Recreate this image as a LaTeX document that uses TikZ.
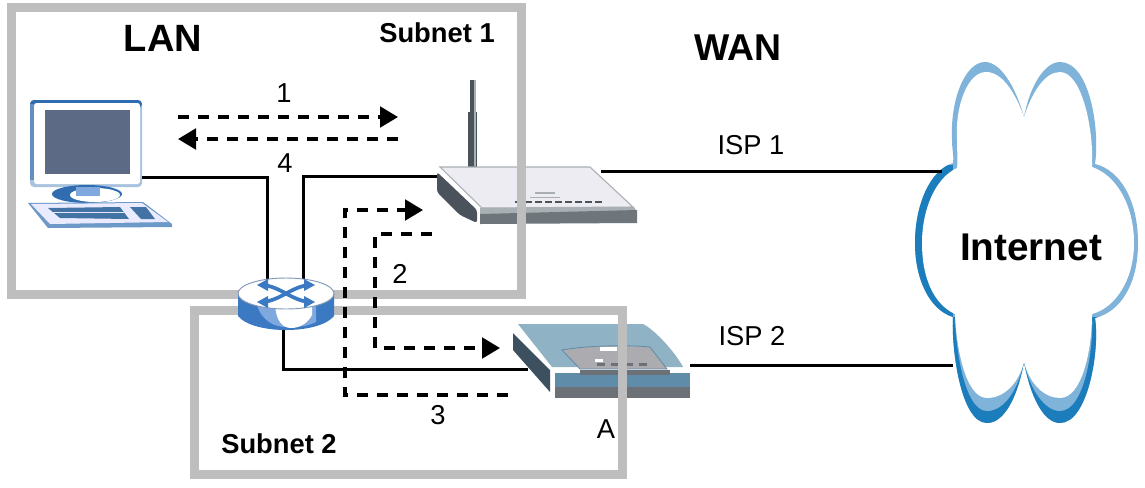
\documentclass[tikz,border=0pt]{standalone}
\usepackage{fontspec}
\setmainfont{Liberation Sans}
\usetikzlibrary{arrows.meta}
\definecolor{framegray}{HTML}{BEBEBE}
\definecolor{cloudlight}{HTML}{7FB3D9}
\definecolor{clouddark}{HTML}{1B7DBB}
\definecolor{pcblue}{HTML}{2F6DB0}
\definecolor{pcpale}{HTML}{A9C2DE}
\definecolor{pcscreen}{HTML}{5C6A86}
\definecolor{rtrdark}{HTML}{4A525C}
\definecolor{rtrmid}{HTML}{6E757B}
\definecolor{rtrlight}{HTML}{A9B0B3}
\definecolor{rtrtop}{HTML}{ECECF2}
\definecolor{gwtop}{HTML}{8FB2C4}
\definecolor{gwblue}{HTML}{5F8CA8}
\definecolor{gwgray}{HTML}{6C7177}
\definecolor{gwdark}{HTML}{3C5060}
\definecolor{gwpanel}{HTML}{ABABB0}
\definecolor{swblue}{HTML}{3B79C2}
\definecolor{swlight}{HTML}{7FA9DE}
\tikzset{
  x=0.75pt,y=-0.75pt,
  frame/.style={draw=framegray,line width=6.75pt,miter limit=10},
  wire/.style={draw=black,line width=2.25pt},
  flow/.style={draw=black,line width=2.4pt,dash pattern=on 8pt off 7pt,-{Triangle[length=13.5pt,width=15.5pt]}},
  big/.style={font=\bfseries\fontsize{28.5pt}{30pt}\selectfont,inner sep=0pt},
  wan/.style={font=\bfseries\fontsize{28pt}{30pt}\selectfont,inner sep=0pt},
  sub/.style={font=\bfseries\fontsize{20.5pt}{24pt}\selectfont,inner sep=0pt},
  lab/.style={font=\fontsize{20.5pt}{24pt}\selectfont,inner sep=0pt},
  net/.style={font=\bfseries\fontsize{29pt}{32pt}\selectfont,inner sep=0pt},
}
\def\cloudouter{(1024,117) .. controls (1015,85) and (1000,62) .. (985,62)
 .. controls (965,62) and (950,100) .. (952,140)
 .. controls (952,150) and (954,155) .. (953,163)
 .. controls (930,170) and (915,205) .. (915,243)
 .. controls (915,280) and (930,310) .. (953,317)
 .. controls (951,345) and (960,423) .. (987,423)
 .. controls (1005,423) and (1018,395) .. (1024,362)
 .. controls (1030,395) and (1043,423) .. (1060,423)
 .. controls (1088,423) and (1100,350) .. (1095,318)
 .. controls (1120,312) and (1138,285) .. (1138,243)
 .. controls (1138,200) and (1120,170) .. (1095,164)
 .. controls (1100,130) and (1090,62) .. (1060,62)
 .. controls (1045,62) and (1030,85) .. (1024,117) -- cycle}
\begin{document}
\begin{tikzpicture}
\useasboundingbox (0,0) rectangle (1145,487);
\fill[white] (0,0) rectangle (1145,487);

% ports
\coordinate (pcport) at (142,177);
\coordinate (rtrlan) at (437,176);
\coordinate (rtrwan) at (601,171);
\coordinate (swa) at (267,281);
\coordinate (swb) at (303,281);
\coordinate (swc) at (283,330);
\coordinate (gwlan) at (528,369);
\coordinate (gwwan) at (690,365);
\coordinate (cloudtop) at (942,171);
\coordinate (cloudbot) at (953,365);

% cloud
\fill[cloudlight] \cloudouter;
\begin{scope}
  \clip \cloudouter;
  \fill[clouddark] (900,165) rectangle (953,317);
  \fill[clouddark] (940,317) rectangle (1100,440);
\end{scope}
\fill[cloudlight] (955,314) .. controls (955,345) and (964,411) .. (987,411)
  .. controls (1004,411) and (1018,390) .. (1024,362)
  .. controls (1030,390) and (1045,411) .. (1060,411)
  .. controls (1084,411) and (1094,350) .. (1092,314) -- cycle;
\fill[white] (1024,117) .. controls (1015,92) and (1002,72) .. (986,72)
  .. controls (968,72) and (955,105) .. (957,140)
  .. controls (957,152) and (958,160) .. (957,168)
  .. controls (935,178) and (922,210) .. (922,243)
  .. controls (922,280) and (935,305) .. (955,314)
  .. controls (956,345) and (965,398) .. (987,398)
  .. controls (1003,398) and (1018,385) .. (1024,362)
  .. controls (1030,385) and (1045,398) .. (1060,398)
  .. controls (1082,398) and (1092,350) .. (1092,314)
  .. controls (1115,308) and (1134,280) .. (1134,243)
  .. controls (1134,205) and (1116,175) .. (1092,167)
  .. controls (1094,130) and (1082,72) .. (1060,72)
  .. controls (1045,72) and (1032,92) .. (1024,117) -- cycle;

% computer
\fill[pcpale,rounded corners=3pt] (30,100) rectangle (142,187);
\fill[pcblue,rounded corners=3pt] (30,100) rectangle (142,108);
\fill[pcblue!60!pcpale] (30,104) rectangle (34,180);
\fill[white,rounded corners=2pt] (34,103) rectangle (140,184);
\fill[pcscreen] (45,110) rectangle (130,174);
\fill[pcblue] (87,194) ellipse[x radius=35,y radius=9];
\fill[white] (95,195) ellipse[x radius=25,y radius=7];
\fill[swlight] (76,187) rectangle (100,196);
\fill[pcblue!70!white] (28,203) -- (143,202) -- (172,224) -- (172,227) -- (48,228) -- cycle;
\fill[white!92!blue] (31,204) -- (142,203) -- (168,222) -- (50,224) -- cycle;
\fill[pcblue!75!gray] (48,208) -- (120,207) -- (129,219) -- (60,218) -- cycle;
\fill[white!90!blue] (52,212) -- (124,212) -- (124,213) -- (52,213) -- cycle;
\fill[pcblue!75!gray] (130,207) -- (146,207) -- (155,219) -- (141,219) -- cycle;

% router
\fill[rtrdark] (468,112) rectangle (477,167);
\fill[rtrdark] (470,80) rectangle (475,112);
\fill[rtrlight] (474,80) rectangle (476,166);
\fill[rtrdark,rounded corners=2pt] (437,172) -- (477,210) -- (477,223) -- (460,215) -- (437,192) -- cycle;
\fill[rtrtop,draw=rtrlight,line width=0.8pt] (440,167) -- (590,167) -- (633,207) -- (482,208) -- cycle;
\fill[rtrlight] (480,208) -- (634,207) -- (637,212) -- (480,216) -- cycle;
\fill[rtrmid] (480,214) -- (637,210) -- (637,223) -- (480,224) -- cycle;
\foreach \i in {0,1,...,8}{\fill[rtrdark] (515+\i*10,201) rectangle (522+\i*10,203);}
\fill[rtrlight] (535,192) rectangle (555,194);
\fill[rtrlight] (530,197) rectangle (560,198);

% gateway
\fill[gwdark] (513,333) -- (550,370) -- (550,392) -- (513,350) -- cycle;
\fill[gwtop] (518,324) -- (643,324) .. controls (655,330) and (675,352) .. (683,367) -- (552,367) -- cycle;
\fill[gwblue] (555,373) rectangle (690,387);
\fill[gwgray] (555,387) rectangle (690,398);
\fill[gwpanel,draw=gwblue,line width=0.6pt] (562,350) .. controls (590,345) and (630,345) .. (650,347) -- (667,369) -- (580,369) -- cycle;
\fill[gwgray] (580,370) rectangle (670,375);
\fill[white] (600,347) rectangle (617,351);
\foreach \i in {0,1,2,3}{\fill[gwgray] (597+\i*14,363) rectangle (605+\i*14,366);}
\fill[white] (595,359) rectangle (603,362);

% frames
\draw[frame] (11.5,7.5) rectangle (521.5,294);
\draw[frame] (194.5,310.5) rectangle (622.5,474.5);

% wires
\draw[wire] (pcport) -| (swa);
\draw[wire] (rtrlan) -| (swb);
\draw[wire] (rtrwan) -- (cloudtop);
\draw[wire] (swc) |- (gwlan);
\draw[wire] (gwwan) -- (cloudbot);

% flows
\coordinate (oa) at (178,117); \coordinate (ob) at (398,117);
\coordinate (fa) at (398,139); \coordinate (fb) at (178,139);
\coordinate (ta) at (432,234); \coordinate (tb) at (375,348); \coordinate (tc) at (500,348);
\coordinate (ra) at (508,395); \coordinate (rb) at (345,210); \coordinate (rc) at (423,210);
\draw[flow] (oa) -- (ob);
\draw[flow] (fa) -- (fb);
\draw[flow] (ta) -| (tb) -- (tc);
\draw[flow] (ra) -| (rb) -- (rc);

% switch
\fill[swblue] (238,293) -- (238,316) .. controls (245,325) and (265,330) .. (286,330) .. controls (307,330) and (327,325) .. (334,316) -- (334,293) -- cycle;
\fill[swlight] (257,300) -- (316,300) -- (316,322) .. controls (306,327) and (296,327) .. (286,327) .. controls (276,327) and (262,322) .. (257,305) -- cycle;
\fill[white] (275,300) -- (312,300) -- (312,315) .. controls (308,323) and (300,328) .. (291,328) .. controls (282,328) and (276,320) .. (275,305) -- cycle;
\fill[white,draw=swlight!60!gray,line width=0.7pt] (286,293.5) ellipse[x radius=48,y radius=15.5];
\draw[swblue,line width=2.8pt] (262,285) .. controls (280,286) and (292,301) .. (310,302);
\draw[swblue,line width=2.8pt] (262,302) .. controls (280,301) and (292,286) .. (310,285);
\foreach \p/\q in {257/285,257/302}{\fill[swblue] (\p,\q) -- (268,\q-6) -- (268,\q+6) -- cycle;}
\foreach \p/\q in {315/285,315/302}{\fill[swblue] (\p,\q) -- (304,\q-6) -- (304,\q+6) -- cycle;}

% text
\node[big] (lan) at (163,38) {LAN};
\node[sub] (subone) at (437,33) {Subnet 1};
\node[wan] (wan) at (738,48) {WAN};
\node[lab] (one) at (284,93) {1};
\node[lab] (four) at (285,163) {4};
\node[lab] (two) at (400,274) {2};
\node[lab] (three) at (438,415) {3};
\node[lab] (ispone) at (751,145) {ISP 1};
\node[lab] (isptwo) at (752,336) {ISP 2};
\node[lab] (a) at (606,429) {A};
\node[sub] (subtwo) at (279,444) {Subnet 2};
\node[net] (internet) at (1031,247) {Internet};
\end{tikzpicture}
\end{document}
